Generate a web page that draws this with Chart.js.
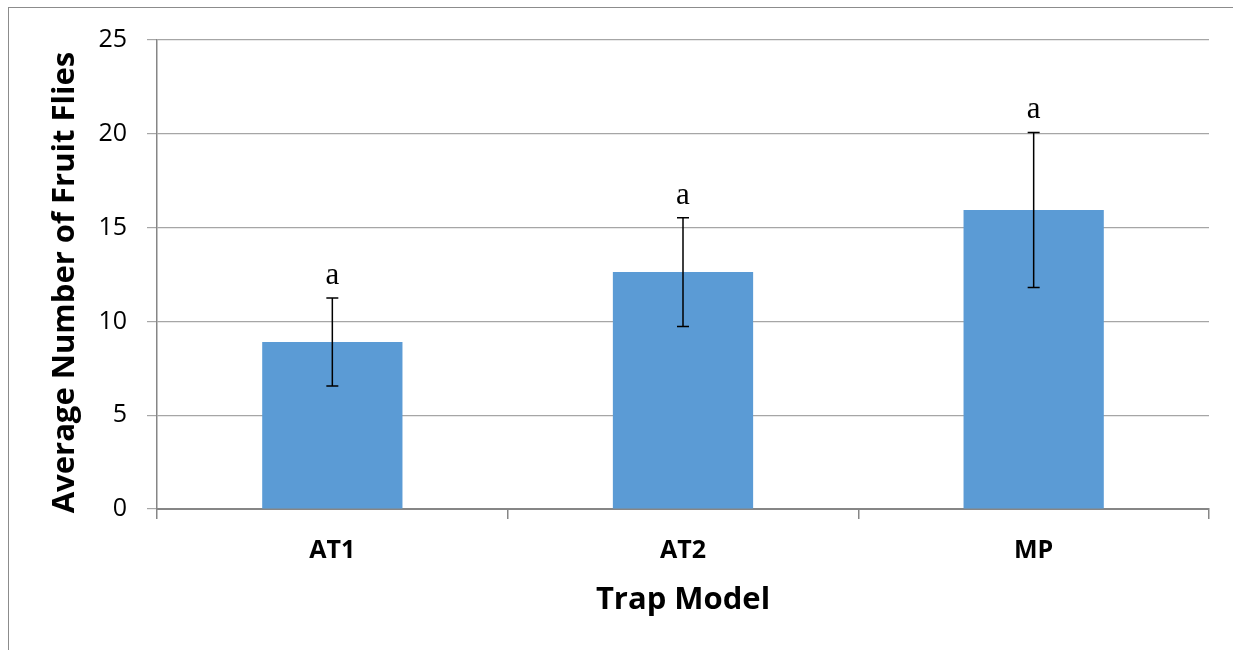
<!DOCTYPE html>
<html>
<head>
<meta charset="utf-8">
<script src="https://cdn.jsdelivr.net/npm/chart.js@4"></script>
<style>
  html, body { margin:0; padding:0; background:#fff; }
  #wrap { position:relative; width:1233px; height:650px; }
  #frame { position:absolute; left:8px; top:7px; right:0; bottom:0; border-top:1px solid #8c8c8c; border-left:1px solid #8c8c8c; pointer-events:none; }
  canvas { position:absolute; left:0; top:0; }
</style>
</head>
<body>
<div id="wrap">
  <canvas id="c" width="1233" height="650"></canvas>
  <div id="frame"></div>
</div>
<script>
// Trap model vs. average catch, with error bars and significance letters.
const traps = ["AT1", "AT2", "MP"];
const avgFlies = [8.9, 12.63, 15.94];
const stdErr = [2.35, 2.9, 4.13];
const sigLetters = ["a", "a", "a"];
const yTicks = [0, 5, 10, 15, 20, 25];

const SANS = "'Open Sans', sans-serif";

// Error bars + letters, drawn on the library's own scales.
const errorBars = {
  id:"errorBars",
  afterDatasetsDraw(c) {
    const { ctx, scales:{ y } } = c;
    const bars = c.getDatasetMeta(0).data;
    ctx.save();
    ctx.strokeStyle = "#000";
    ctx.lineWidth = 1.5;
    bars.forEach((b, i) => {
      const hi = y.getPixelForValue(avgFlies[i] + stdErr[i]);
      const lo = y.getPixelForValue(avgFlies[i] - stdErr[i]);
      ctx.beginPath();
      ctx.moveTo(b.x, hi); ctx.lineTo(b.x, lo);
      ctx.moveTo(b.x - 6, hi); ctx.lineTo(b.x + 6, hi);
      ctx.moveTo(b.x - 6, lo); ctx.lineTo(b.x + 6, lo);
      ctx.stroke();
      ctx.fillStyle = "#000";
      ctx.font = "31px 'Liberation Serif', serif";
      ctx.textAlign = "center";
      ctx.textBaseline = "alphabetic";
      ctx.fillText(sigLetters[i], b.x, hi - 14);
    });
    ctx.restore();
  },
};

new Chart(document.getElementById("c"), {
  type:"bar",
  data:{ labels:traps,
    datasets:[{ data:avgFlies, backgroundColor:"#5B9BD5", borderWidth:0,
      categoryPercentage:1, barPercentage:0.4 }]},
  plugins:[errorBars],
  options:{ responsive:false, animation:false,
    layout:{ padding:{ left:8, right:24, top:40, bottom:0 } },
    scales:{
      x:{ offset:true,
        grid:{ offset:true, drawOnChartArea:false, drawTicks:true, tickLength:10, color:"#868686", lineWidth:1.5 },
        border:{ color:"#868686", width:2 },
        ticks:{ color:"#000", padding:17, font:{ family:SANS, size:25, weight:"bold" } },
        title:{ display:true, text:"Trap Model", color:"#000", padding:{ top:0, bottom:31 },
          font:{ family:SANS, size:31, weight:"bold" } },
        afterFit:(s) => { s.height = 141; } },
      y:{ min:0, max:25,
        afterBuildTicks:(s) => { s.ticks = yTicks.map(v => ({ value:v })); },
        grid:{ color:"#a6a6a6", lineWidth:1.2, tickLength:10 },
        border:{ color:"#868686", width:1.5 },
        ticks:{ color:"#000", padding:20, font:{ family:SANS, size:25 } },
        title:{ display:true, text:"Average Number of Fruit Flies  ", color:"#000", padding:{ top:39, bottom:0 },
          font:{ family:SANS, size:31, weight:"bold" } },
        afterFit:(s) => { s.width = 149; } },
    },
    plugins:{ legend:{ display:false }, tooltip:{ enabled:false } } },
});
</script>
</body>
</html>
